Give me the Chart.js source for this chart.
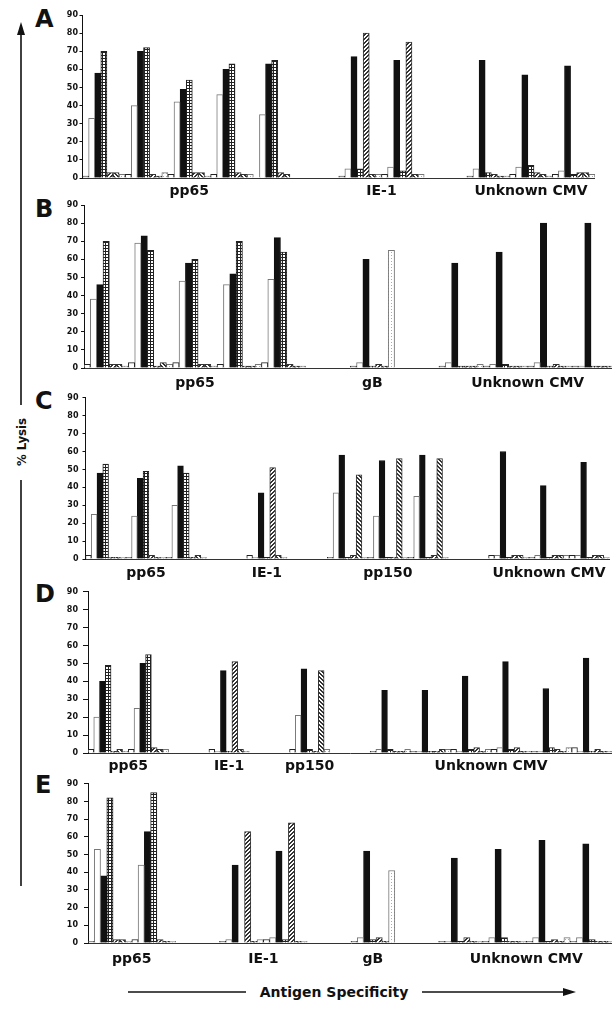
<!DOCTYPE html>
<html><head><meta charset="utf-8">
<script src="https://cdn.jsdelivr.net/npm/chart.js@4"></script>
<style>
html,body{margin:0;padding:0;background:#fff;width:612px;height:1012px;overflow:hidden;}
body{position:relative;font-family:"DejaVu Sans",sans-serif;color:#111;}
canvas{position:absolute;left:0;}
.letter{position:absolute;left:35px;font:bold 24px "DejaVu Sans";line-height:24px;}
#ylab{position:absolute;left:21px;top:442px;transform:translate(-50%,-50%) rotate(-90deg);font:bold 13px "DejaVu Sans Condensed","DejaVu Sans";white-space:nowrap;}
#xlab{position:absolute;left:334px;top:992px;transform:translate(-50%,-50%);font:bold 14px "DejaVu Sans";white-space:nowrap;}
svg{position:absolute;left:0;top:0;}
</style></head><body>
<div class="letter" style="top:7px">A</div>
<div class="letter" style="top:197px">B</div>
<div class="letter" style="top:389px">C</div>
<div class="letter" style="top:582px">D</div>
<div class="letter" style="top:773px">E</div>
<svg width="612" height="1012">
  <line x1="21" y1="32" x2="21" y2="405" stroke="#111" stroke-width="1.6"/>
  <line x1="21" y1="480" x2="21" y2="886" stroke="#111" stroke-width="1.6"/>
  <polygon points="21,22 17,35 25,35" fill="#111"/>
  <line x1="128" y1="992" x2="246" y2="992" stroke="#111" stroke-width="1.6"/>
  <line x1="422" y1="992" x2="566" y2="992" stroke="#111" stroke-width="1.6"/>
  <polygon points="576,992 563,988 563,996" fill="#111"/>
</svg>
<div id="ylab">% Lysis</div>
<div id="xlab">Antigen Specificity</div>
<canvas id="cA"></canvas>
<canvas id="cB"></canvas>
<canvas id="cC"></canvas>
<canvas id="cD"></canvas>
<canvas id="cE"></canvas>
<script>
// ---------- DATA ----------
const yTicks = [0,10,20,30,40,50,60,70,80,90];
const seriesNames = ['Target 1','Target 2','Target 3','Target 4','Target 5','Target 6','Target 7'];

// Panel A: clone slots (null = gap between antigen groups)
const layoutA = ['pp65','pp65','pp65','pp65','pp65',null,'IE-1','IE-1',null,'Unknown CMV','Unknown CMV','Unknown CMV'];
const valuesA = [
  [1,33,58,70,3,3,2],[2,40,70,72,2,1,3],[2,42,49,54,3,3,1],[2,46,60,63,3,2,2],[0,35,63,65,3,2,0],
  null,
  [1,5,67,5,80,2,2],[2,6,65,4,75,2,2],
  null,
  [1,5,65,3,2,1,1],[2,6,57,7,3,2,1],[2,4,62,2,3,3,2]
];
// Panel B
const layoutB = ['pp65','pp65','pp65','pp65','pp65',null,'gB',null,'Unknown CMV','Unknown CMV','Unknown CMV','Unknown CMV'];
const valuesB = [
  [2,38,46,70,2,2,1],[3,69,73,65,1,3,2],[3,48,58,60,2,2,1],[2,46,52,70,1,1,2],[3,49,72,64,2,1,1],
  null,
  [1,3,60,1,2,1,65],
  null,
  [1,3,58,1,1,1,2],[1,2,64,2,1,1,1],[1,3,80,1,2,1,1],[1,1,80,1,1,1,1]
];
// Panel C
const layoutC = ['pp65','pp65','pp65',null,'IE-1',null,'pp150','pp150','pp150',null,'Unknown CMV','Unknown CMV','Unknown CMV'];
const valuesC = [
  [2,25,48,53,1,1,1],[1,24,45,49,2,1,1],[1,30,52,48,1,2,1],
  null,
  [2,1,37,1,51,2,1],
  null,
  [1,37,58,1,2,47,1],[1,24,55,1,1,56,1],[1,35,58,1,2,56,1],
  null,
  [2,2,60,1,2,2,1],[1,2,41,1,2,2,2],[2,2,54,1,2,2,1]
];
// Panel D
const layoutD = ['pp65','pp65',null,'IE-1',null,'pp150',null,'Unknown CMV','Unknown CMV','Unknown CMV','Unknown CMV','Unknown CMV','Unknown CMV'];
const valuesD = [
  [2,20,40,49,1,2,1],[2,25,50,55,3,2,2],
  null,
  [2,1,46,1,51,2,1],
  null,
  [2,21,47,2,1,46,2],
  null,
  [1,2,35,2,1,1,2],[1,1,35,1,1,2,2],[2,1,43,2,3,1,2],[2,3,51,2,3,1,1],[1,1,36,3,2,1,3],[3,1,53,1,2,1,1]
];
// Panel E
const layoutE = ['pp65','pp65',null,'IE-1','IE-1',null,'gB',null,'Unknown CMV','Unknown CMV','Unknown CMV','Unknown CMV'];
const valuesE = [
  [1,53,38,82,2,2,1],[2,44,63,85,2,1,1],
  null,
  [1,2,44,0,63,1,2],[2,3,52,2,68,1,1],
  null,
  [1,3,52,2,3,1,41],
  null,
  [1,1,48,1,3,1,1],[1,3,53,3,1,1,1],[1,3,58,1,2,1,3],[1,3,56,2,1,1,1]
];

// ---------- STYLES ----------
function pat(w,h,draw){
  const c=document.createElement('canvas');c.width=w;c.height=h;
  const g=c.getContext('2d');g.fillStyle='#fff';g.fillRect(0,0,w,h);draw(g);
  return g.createPattern(c,'repeat');
}
const gridPat = pat(3,3,g=>{g.fillStyle='#222';g.fillRect(0,0,3,1);g.fillRect(0,0,1,3);});
const diagPat = pat(4,4,g=>{g.fillStyle='#333';for(let i=0;i<4;i++){g.fillRect(i,3-i,1,1);g.fillRect((i+1)%4,3-i,1,1);}});
const diag2Pat = pat(4,4,g=>{g.fillStyle='#333';for(let i=0;i<4;i++){g.fillRect(i,i,1,1);g.fillRect((i+1)%4,i,1,1);}});
const dotPat = pat(3,3,g=>{g.fillStyle='#aaa';g.fillRect(1,1,1,1);});
const seriesStyle = [
  {bg:'#fff',bd:'#222'},
  {bg:'#fff',bd:'#777'},
  {bg:'#111',bd:'#111'},
  {bg:gridPat,bd:'#222'},
  {bg:diagPat,bd:'#333'},
  {bg:diag2Pat,bd:'#333'},
  {bg:dotPat,bd:'#777'}
];

const groupLabelPlugin = {
  id:'groupLabels',
  afterDraw(chart,args,opts){
    const {ctx,chartArea}=chart;const xs=chart.scales.x;
    ctx.save();
    ctx.font='bold 14px "DejaVu Sans"';ctx.fillStyle='#111';ctx.textAlign='center';ctx.textBaseline='middle';
    opts.groups.forEach(g=>{
      const cx=(xs.getPixelForValue(g.start)+xs.getPixelForValue(g.end))/2;
      ctx.fillText(g.name,cx,chartArea.bottom+opts.dy);
    });
    ctx.restore();
  }
};

function groupsOf(layout){
  const out=[];
  layout.forEach((n,i)=>{
    if(n===null)return;
    const last=out[out.length-1];
    if(last&&last.name===n&&last.end===i-1)last.end=i;else out.push({name:n,start:i,end:i});
  });
  return out;
}

function makePanel(id,layout,values,geo){
  const cv=document.getElementById(id);
  const padTop=8, below=26;
  cv.width=Math.ceil(geo.right);
  cv.height=Math.round(geo.bottom-geo.top)+padTop+below;
  cv.style.top=(geo.top-padTop)+'px';
  const labels=layout.map((n,i)=>n===null?'':n+' '+i);
  const datasets=seriesNames.map((nm,s)=>({
    label:nm,
    data:values.map(r=>r?r[s]:null),
    backgroundColor:seriesStyle[s].bg,
    borderColor:seriesStyle[s].bd,
    borderWidth:1,
    categoryPercentage:1,
    barPercentage:1
  }));
  new Chart(cv,{
    type:'bar',
    data:{labels,datasets},
    plugins:[groupLabelPlugin],
    options:{
      responsive:false,animation:false,devicePixelRatio:1,
      layout:{padding:{top:padTop,left:0,right:cv.width-geo.right,bottom:0}},
      plugins:{legend:{display:false},tooltip:{enabled:false},
        groupLabels:{groups:groupsOf(layout),dy:geo.dy}},
      scales:{
        x:{grid:{display:false},ticks:{display:false},border:{display:true,color:'#333',width:1},
           afterFit:s=>{s.height=below;}},
        y:{min:0,max:90,
           afterBuildTicks:s=>{s.ticks=yTicks.map(v=>({value:v}));},
           afterFit:s=>{s.width=geo.left;},
           ticks:{font:{family:'DejaVu Sans',weight:'bold',size:8},color:'#111',padding:geo.pad},
           grid:{drawOnChartArea:false,drawTicks:true,tickLength:geo.tl,color:'#111'},
           border:{display:true,color:'#111',width:1}}
      }
    }
  });
}

makePanel('cA',layoutA,valuesA,{left:82.5,right:595,top:15,bottom:178,pad:1.5,tl:3,dy:13});
makePanel('cB',layoutB,valuesB,{left:84,right:616.4,top:205,bottom:368,pad:3,tl:3,dy:15});
makePanel('cC',layoutC,valuesC,{left:85.5,right:609.5,top:397,bottom:559,pad:4,tl:3,dy:14});
makePanel('cD',layoutD,valuesD,{left:88,right:612,top:590,bottom:753,pad:5,tl:5,dy:13});
makePanel('cE',layoutE,valuesE,{left:88,right:614,top:781,bottom:943,pad:6,tl:4,dy:16});
</script>
</body></html>
